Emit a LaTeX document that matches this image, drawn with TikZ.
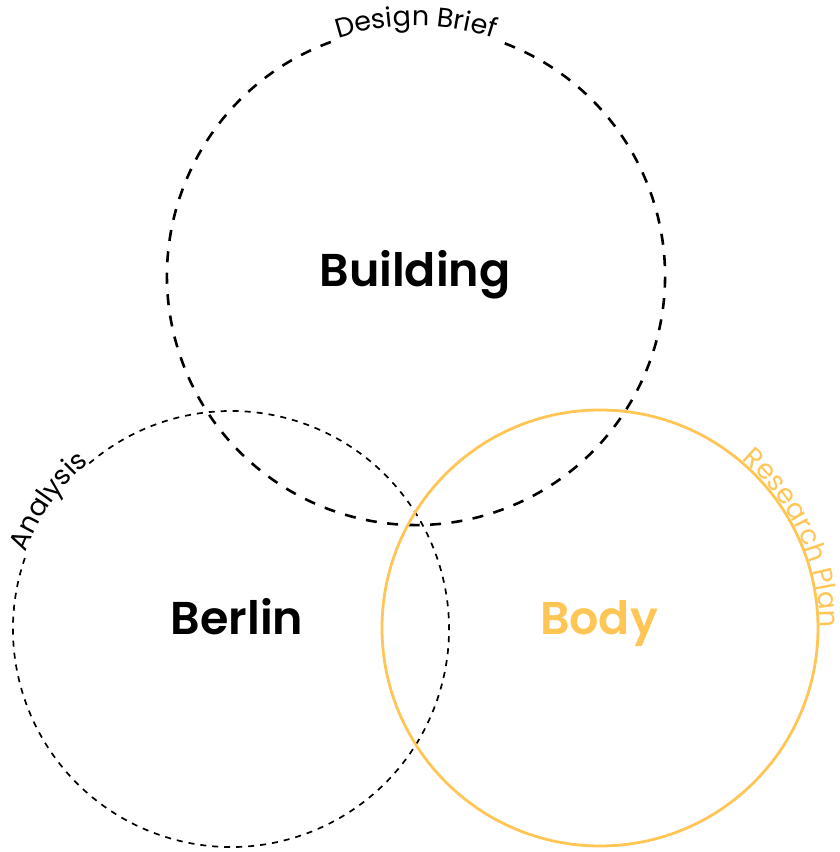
\documentclass[tikz,border=0pt]{standalone}
\usepackage{fontspec}
\setmainfont{Poppins}[BoldFont={Poppins SemiBold}]
\newfontfamily\labelfont{Poppins}
\usetikzlibrary{decorations.text}

\definecolor{bodyyellow}{HTML}{FFC655}
\newcommand\labellook{\labelfont\fontsize{27}{27}\selectfont}

\begin{document}
\begin{tikzpicture}[
        x=1pt, y=1pt,
        bigdash/.style={line width=2.6pt, dash pattern=on 11pt off 10.5pt},
        smalldash/.style={line width=1.7pt, dash pattern=on 6pt off 6pt},
        bodyline/.style={line width=2.8pt, draw=bodyyellow},
        title/.style={font=\fontsize{46}{46}\selectfont\bfseries, inner sep=0pt, anchor=base},
        arclabel/.style={decorate, decoration={text along path, text align=center,
            text={|\labellook|#1}}}
    ]
    \useasboundingbox (0,0) rectangle (839,852);

    % centres of the three circles
    \coordinate (top) at (416,576);
    \coordinate (left) at (231,223);
    \coordinate (right) at (600,224);

    % circles, with a gap under the labels
    \draw[bigdash] (top) ++(110:249) arc[start angle=110, end angle=430, radius=249pt];
    \draw[smalldash] (left) ++(161:218) arc[start angle=161, end angle=491, radius=218pt];
    \draw[bodyline] (right) circle[radius=218pt];

    % labels along the circles
    \path[arclabel={Design Brief}]
        (top) ++(135:250) arc[start angle=135, end angle=45, radius=250pt];
    \path[arclabel={Analysis}]
        (left) ++(180:219) arc[start angle=180, end angle=110, radius=219pt];
    \path[arclabel={Research Plan}, decoration={text color=bodyyellow}]
        (right) ++(60:220) arc[start angle=60, end angle=-10, radius=220pt];

    \node[
        title,
        name=building
    ] at (415,565) {Building};

    \node[
        title,
        name=berlin
    ] at (237,217) {Berlin};

    \node[
        title,
        text=bodyyellow,
        name=body
    ] at (599,217) {Body};
\end{tikzpicture}
\end{document}
